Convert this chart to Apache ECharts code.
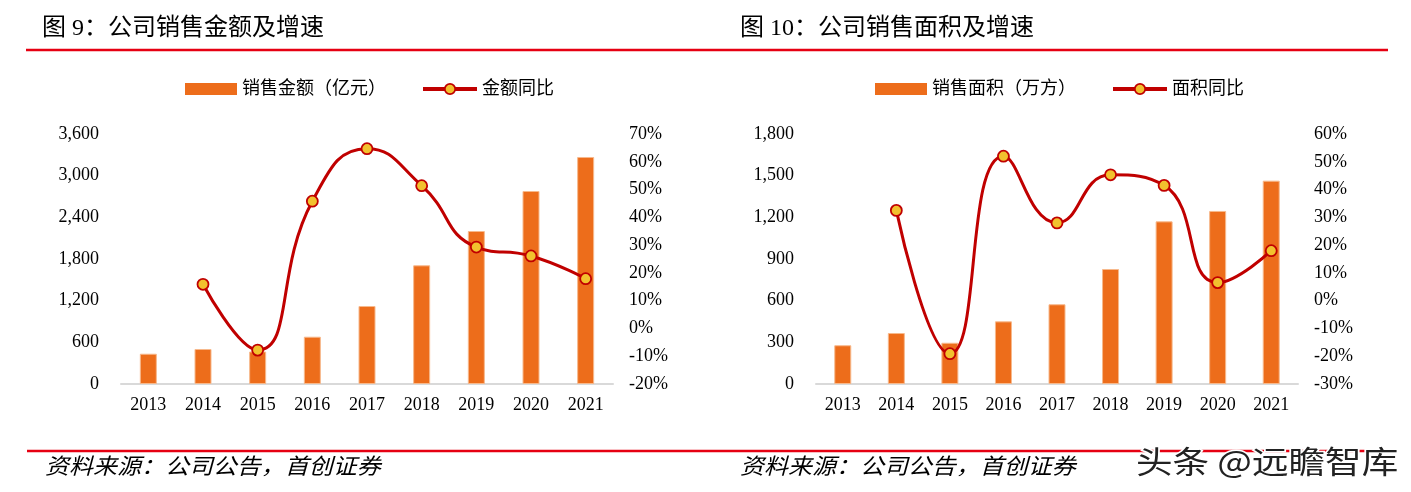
<!DOCTYPE html>
<html>
<head>
<meta charset="utf-8">
<script src="https://cdn.jsdelivr.net/npm/echarts@6/dist/echarts.min.js"></script>
<style>
html,body{margin:0;padding:0;background:#fff;}
#c{width:1411px;height:492px;}
</style>
</head>
<body>
<div id="c"></div>
<script>
// ---- data ----
const years = ['2013','2014','2015','2016','2017','2018','2019','2020','2021'];
// Figure 9
const salesAmount = [436, 504, 468, 681, 1123, 1709, 2203, 2779, 3269];      // 亿元
const amountYoY   = [null, 15.9, -7.8, 45.8, 64.7, 51.4, 29.3, 26.1, 17.9];   // %
// Figure 10
const salesArea   = [279, 367, 297, 451, 574, 828, 1171, 1246, 1464];        // 万方
const areaYoY     = [null, 32.5, -19.1, 52.0, 28.0, 45.3, 41.5, 6.5, 18.0];   // %

const title1 = '图 9：公司销售金额及增速';
const title2 = '图 10：公司销售面积及增速';
const legendBar1 = '销售金额（亿元）';
const legendLine1 = '金额同比';
const legendBar2 = '销售面积（万方）';
const legendLine2 = '面积同比';
const sourceText = '资料来源：公司公告，首创证券';
const watermark = '头条 @远瞻智库';

// ---- styles ----
const SERIF = "'Liberation Serif', 'Noto Sans CJK SC', serif";
const BAR = '#ED6D1B';
const LINE = '#C00000';
const DOT = '#F2C12E';
const RED = '#E60012';

const chart = echarts.init(document.getElementById('c'), null, {renderer: 'canvas'});

function xAxis(gi) {
  return {
    type: 'category', gridIndex: gi, data: years,
    axisTick: {show: false},
    axisLine: {lineStyle: {color: '#D9D9D9', width: 2}},
    axisLabel: {fontFamily: SERIF, fontSize: 18, color: '#000', margin: 12}
  };
}
function yAxis(gi, min, max, interval, pos, fmt, margin) {
  return {
    type: 'value', gridIndex: gi, min: min, max: max, interval: interval, position: pos,
    splitLine: {show: false}, axisLine: {show: false}, axisTick: {show: false},
    axisLabel: {fontFamily: SERIF, fontSize: 18, color: '#000', margin: margin, formatter: fmt}
  };
}
function barSeries(name, xi, yi, data) {
  return {
    name: name, type: 'bar', xAxisIndex: xi, yAxisIndex: yi, data: data,
    barWidth: 17,
    itemStyle: {color: BAR, borderColor: '#F7B98C', borderWidth: 1},
    z: 2
  };
}
function lineSeries(name, xi, yi, data) {
  return {
    name: name, type: 'line', xAxisIndex: xi, yAxisIndex: yi, data: data,
    smooth: 0.5, connectNulls: false,
    symbol: 'circle', symbolSize: 11, showSymbol: true,
    lineStyle: {color: LINE, width: 3},
    itemStyle: {color: DOT, borderColor: LINE, borderWidth: 1.8},
    z: 5
  };
}
function text(x, y, str, size, extra) {
  return {
    type: 'text', x: x, y: y,
    style: Object.assign({text: str, fontFamily: SERIF, fontSize: size, fill: '#000', verticalAlign: 'middle'}, extra || {})
  };
}

const legendText = {fontFamily: SERIF, fontSize: 18, color: '#000'};
const lineLegendItem = (n) => ({name: n, itemStyle: {color: DOT, borderColor: LINE, borderWidth: 1.8}, lineStyle: {color: LINE, width: 4}});

const option = {
  animation: false,
  backgroundColor: '#fff',
  grid: [
    {left: 121, top: 134, width: 492, height: 250},
    {left: 816, top: 134, width: 482, height: 250}
  ],
  xAxis: [xAxis(0), xAxis(1)],
  yAxis: [
    yAxis(0, 0, 3600, 600, 'left', null, 22),
    yAxis(0, -20, 70, 10, 'right', '{value}%', 16),
    yAxis(1, 0, 1800, 300, 'left', null, 22),
    yAxis(1, -30, 60, 10, 'right', '{value}%', 16)
  ],
  legend: [
    {data: [{name: legendBar1, icon: 'rect', itemStyle: {borderWidth: 0}}], left: 185, top: 80, padding: 0, itemWidth: 52, itemHeight: 12, textStyle: legendText},
    {data: [lineLegendItem(legendLine1)], left: 421, top: 80, padding: 0, itemWidth: 54, itemHeight: 13, textStyle: legendText},
    {data: [{name: legendBar2, icon: 'rect', itemStyle: {borderWidth: 0}}], left: 875, top: 80, padding: 0, itemWidth: 52, itemHeight: 12, textStyle: legendText},
    {data: [lineLegendItem(legendLine2)], left: 1111, top: 80, padding: 0, itemWidth: 54, itemHeight: 13, textStyle: legendText}
  ],
  series: [
    barSeries(legendBar1, 0, 0, salesAmount),
    lineSeries(legendLine1, 0, 1, amountYoY),
    barSeries(legendBar2, 1, 2, salesArea),
    lineSeries(legendLine2, 1, 3, areaYoY)
  ],
  graphic: [
    text(42, 29, title1, 24),
    text(740, 29, title2, 24),
    {type: 'line', shape: {x1: 26, y1: 50, x2: 1388, y2: 50}, style: {stroke: RED, lineWidth: 2.5}},
    {type: 'line', shape: {x1: 27, y1: 451, x2: 1390, y2: 451}, style: {stroke: RED, lineWidth: 2.5}},
    Object.assign(text(45, 468, sourceText, 22, {fontStyle: 'italic'}), {scaleX: 1.09}),
    Object.assign(text(740, 468, sourceText, 22, {fontStyle: 'italic'}), {scaleX: 1.09}),
    Object.assign(text(1136, 461, watermark, 31, {fontFamily: "'Noto Sans CJK SC', sans-serif", fill: '#222', stroke: '#fff', lineWidth: 3}), {scaleX: 1.18, z: 100})
  ]
};
chart.setOption(option);
</script>
</body>
</html>
